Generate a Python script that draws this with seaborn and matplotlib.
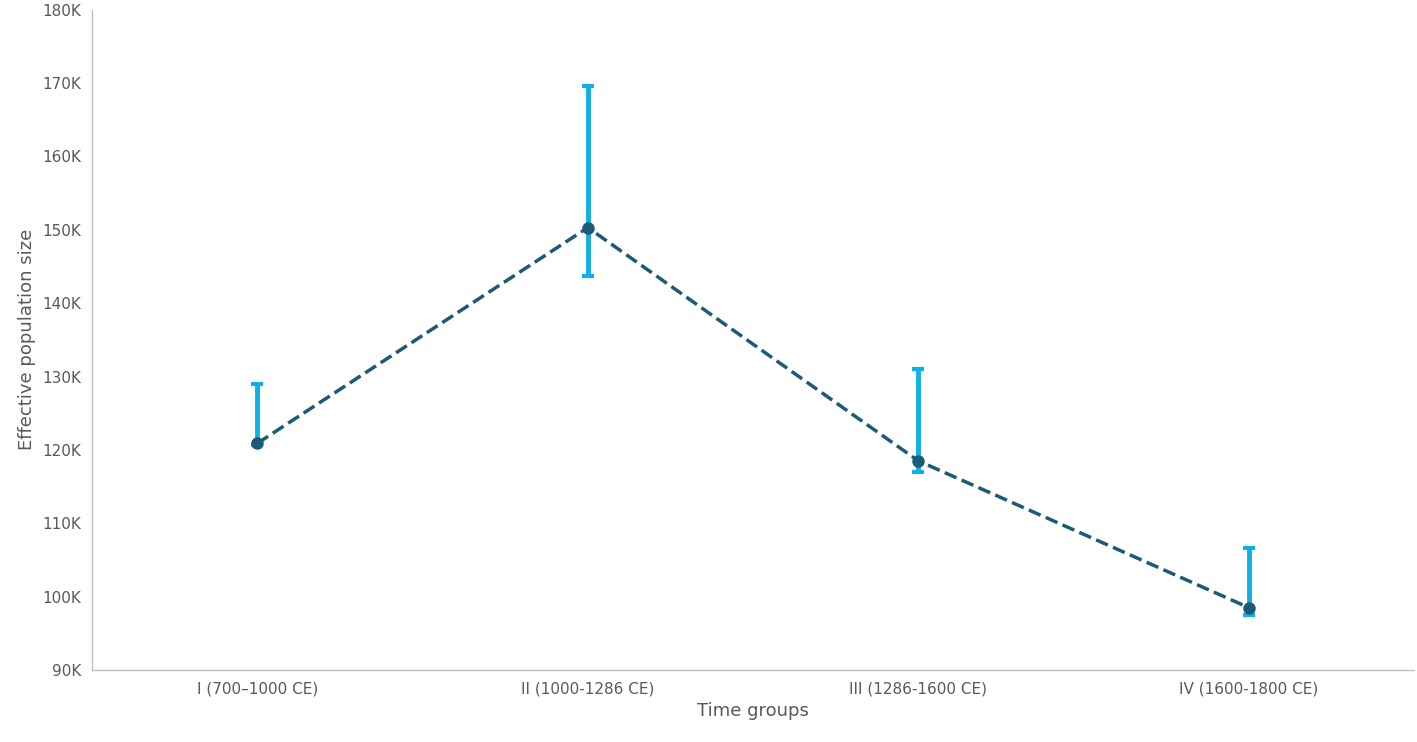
import matplotlib
matplotlib.use("Agg")
import matplotlib.pyplot as plt
import seaborn as sns
import numpy as np
import pandas as pd

categories = ["I (700\u20131000 CE)", "II (1000-1286 CE)", "III (1286-1600 CE)", "IV (1600-1800 CE)"]
values = [120.9, 150.3, 118.5, 98.5]
upper = [129.0, 169.6, 131.0, 106.6]
lower = [120.6, 143.7, 117.0, 97.5]
yticks = [90, 100, 110, 120, 130, 140, 150, 160, 170, 180]

sns.set_theme(style="white")
plt.rcParams['font.family'] = ['DejaVu Sans']
fig = plt.figure(figsize=(14.17, 7.42), dpi=100)
ax = fig.add_axes([0.065, 0.097, 0.933, 0.89])

x = np.arange(len(categories))
df = pd.DataFrame({"x": x, "v": values})
v = np.array(values)
yerr = [v - np.array(lower), np.array(upper) - v]
ax.errorbar(x, v, yerr=yerr, fmt="none", ecolor="#0fb0e6", elinewidth=3.5, capsize=4, capthick=3, zorder=2)
sns.lineplot(data=df, x="x", y="v", ax=ax, color="#1b5a78", linestyle="--", linewidth=2.5,
             marker="o", markersize=9, markeredgewidth=0, zorder=3)

ax.set_xlim(-0.5, 3.5)
ax.set_ylim(90, 180)
ax.set_xticks(x)
ax.set_xticklabels(categories, fontsize=11, color="#595959")
ax.set_yticks(yticks)
ax.set_yticklabels([f"{t}K" for t in yticks], fontsize=11, color="#595959")
ax.set_xlabel("Time groups", fontsize=13, color="#595959")
ax.set_ylabel("Effective population size", fontsize=13, color="#595959")
for s in ["top", "right"]:
    ax.spines[s].set_visible(False)
for s in ["left", "bottom"]:
    ax.spines[s].set_color("#bfbfbf")
    ax.spines[s].set_linewidth(1)
ax.tick_params(length=0, pad=8)
fig.savefig("out.png", dpi=100)
